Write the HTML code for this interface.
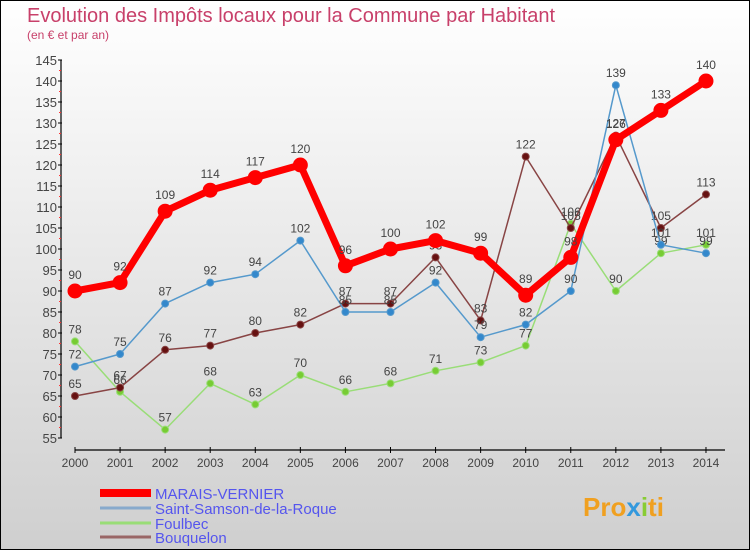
<!DOCTYPE html>
<html><head><meta charset="utf-8"><style>
body{margin:0}
#c{width:750px;height:550px;position:relative;overflow:hidden;font-family:"Liberation Sans",sans-serif}
</style></head><body>
<div id="c">
<svg id="s" width="750" height="550" xmlns="http://www.w3.org/2000/svg">
<defs><linearGradient id="bg" x1="0" y1="0" x2="0" y2="1"><stop offset="0" stop-color="#ffffff"/><stop offset="1" stop-color="#cfcfcf"/></linearGradient></defs>
<rect x="0.5" y="0.5" width="749" height="549" fill="url(#bg)" stroke="#000"/>
<text x="27" y="22" font-size="20" fill="#c8406a">Evolution des Impôts locaux pour la Commune par Habitant</text>
<text x="27" y="39" font-size="12" fill="#c8406a">(en € et par an)</text>
<g id="axes"></g><g id="series"></g><g id="legend"></g>
<g><text x="583" y="516" font-size="26" font-weight="bold" fill="#f0a020">Pro<tspan fill="#3399dd">x</tspan><tspan fill="#88cc33">i</tspan><tspan fill="#f0a020">ti</tspan></text></g>
</svg></div>
<script>
const years=[2000,2001,2002,2003,2004,2005,2006,2007,2008,2009,2010,2011,2012,2013,2014];
const yTicks=[55,60,65,70,75,80,85,90,95,100,105,110,115,120,125,130,135,140,145];
const marais=[90,92,109,114,117,120,96,100,102,99,89,98,126,133,140];
const samson=[72,75,87,92,94,102,85,85,92,79,82,90,139,101,99];
const foulbec=[78,66,57,68,63,70,66,68,71,73,77,106,90,99,101];
const bouquelon=[65,67,76,77,80,82,87,87,98,83,122,105,127,105,113];
const seriesNames=["MARAIS-VERNIER","Saint-Samson-de-la-Roque","Foulbec","Bouquelon"];
const NS="http://www.w3.org/2000/svg";
function xs(i){return 75+i*45.07;}
function ys(v){return 438-(v-55)*4.2;}
function mk(t,a,p){const e=document.createElementNS(NS,t);for(const k in a)e.setAttribute(k,a[k]);p.appendChild(e);return e;}
const ax=document.getElementById('axes');
mk('line',{x1:61,y1:60,x2:61,y2:438,stroke:'#000','stroke-width':1.2},ax);
yTicks.forEach(v=>{
 const y=ys(v);
 mk('line',{x1:58,y1:y,x2:62,y2:y,stroke:'#000'},ax);
 if(v<145) mk('line',{x1:59,y1:y-10.5,x2:61,y2:y-10.5,stroke:'#f33'},ax);
 const t=mk('text',{x:57,y:y+5,'font-size':13,fill:'#444','text-anchor':'end'},ax);t.textContent=v;
 
 
});
mk('line',{x1:75,y1:450,x2:725,y2:450,stroke:'#000','stroke-width':1.2},ax);
years.forEach((yr,i)=>{
 const x=xs(i);
 mk('line',{x1:x,y1:447,x2:x,y2:453,stroke:'#000'},ax);
 const t=mk('text',{x:x,y:467,'font-size':12,fill:'#444','text-anchor':'middle'},ax);t.textContent=yr;
 
 
});
const sg=document.getElementById('series');
function draw(data,color,w,r,dot,name,labelOff){
 const g=mk('g',{},sg);
 
 
 mk('polyline',{points:data.map((v,i)=>xs(i)+','+ys(v)).join(' '),fill:'none',stroke:color,'stroke-width':w,'stroke-linejoin':'round'},g);
 data.forEach((v,i)=>{
  const c=mk('circle',{cx:xs(i),cy:ys(v),r:r,fill:dot,stroke:color,'stroke-width':1},g);
  
  
  const t=mk('text',{x:xs(i),y:ys(v)-labelOff,'font-size':12,fill:'#444','text-anchor':'middle'},g);t.textContent=v;
 });
}
draw(foulbec,'#99dd77',1.5,3.5,'#77cc33','series-foulbec',8);
draw(bouquelon,'#884444',1.5,3.5,'#661111','series-bouquelon',8);
draw(samson,'#5599cc',1.5,3.5,'#3388cc','series-saint-samson',8);
draw(marais,'#ff0000',7,7,'#ff0000','series-marais-vernier',12);
const lg=document.getElementById('legend');
const lc=['#ff0000','#88aacc','#99dd77','#996666'],lw=[8,3,3,3],ly=[493,508,523,537];
seriesNames.forEach((n,i)=>{
 const g=mk('g',{},lg);
 
 
 mk('line',{x1:100,y1:ly[i],x2:151,y2:ly[i],stroke:lc[i],'stroke-width':lw[i]},g);
 const t=mk('text',{x:155,y:ly[i]+6,'font-size':15,fill:'#5555ee'},g);t.textContent=n;
});
</script></body></html>
